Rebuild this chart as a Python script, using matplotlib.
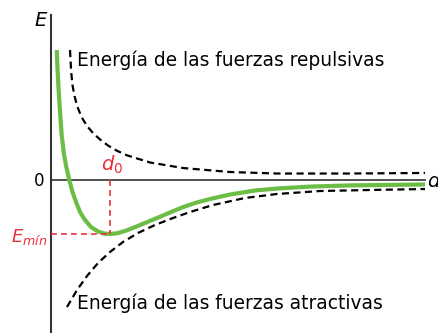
import matplotlib.pyplot as plt
import numpy as np

# energia total (curva verde); d en unidades de d0, E en unidades de |Emin|
d_total = [0.097, 0.110, 0.127, 0.153, 0.181, 0.217, 0.259, 0.310, 0.364, 0.424, 0.492,
           0.576, 0.678, 0.797, 0.898, 1.000, 1.119, 1.254, 1.407, 1.593, 1.797, 2.017,
           2.220, 2.441, 2.695, 3.034, 3.458, 3.881, 4.390, 5.068, 6.339]
E_total = [2.407, 2.074, 1.704, 1.259, 0.833, 0.500, 0.241, 0.000, -0.222, -0.407, -0.593,
           -0.741, -0.870, -0.954, -0.991, -1.000, -0.987, -0.944, -0.880, -0.796, -0.704,
           -0.602, -0.509, -0.426, -0.352, -0.269, -0.194, -0.154, -0.122, -0.100, -0.083]

# energia de las fuerzas repulsivas
d_rep = [0.322, 0.331, 0.342, 0.364, 0.398, 0.449, 0.517, 0.610, 0.712, 0.831, 0.966,
         1.119, 1.288, 1.678, 2.237, 3.034, 3.831, 5.068, 6.339]
E_rep = [2.407, 2.222, 2.000, 1.759, 1.556, 1.352, 1.167, 1.000, 0.870, 0.750, 0.639,
         0.541, 0.457, 0.324, 0.222, 0.148, 0.120, 0.120, 0.130]

# energia de las fuerzas atractivas
d_atr = [0.271, 0.441, 0.610, 0.797, 1.000, 1.220, 1.475, 1.763, 2.068, 2.356, 2.746,
         3.288, 3.831, 4.559, 5.407, 6.339]
E_atr = [-2.352, -2.037, -1.778, -1.537, -1.333, -1.148, -0.981, -0.833, -0.704, -0.593, -0.463,
         -0.333, -0.259, -0.204, -0.185, -0.167]

d0 = 1.0
E_min = -1.0

fig = plt.figure(figsize=(4.38, 3.33), dpi=100)
ax = fig.add_axes([0, 0, 1, 1])
ax.set_xlim(-51 / 59, 387 / 59)
ax.set_ylim(-153 / 54, 180 / 54)
ax.axis('off')

# ejes
ax.plot([0, 0], [-3, 3.056], color='#333333', lw=1.5)
ax.plot([0, 6.34], [0, 0], color='#333333', lw=1.2)

# curvas
ax.plot(d_rep, E_rep, color='black', lw=1.6, dashes=(3.2, 2.0))
ax.plot(d_atr, E_atr, color='black', lw=1.6, dashes=(3.2, 2.0))
ax.plot(d_total, E_total, color='#6cbd45', lw=3.0, solid_capstyle='butt',
        solid_joinstyle='round')

# d0 y Emin
red = '#e8303a'
ax.plot([d0, d0], [0, E_min], color=red, lw=1.2, dashes=(3.5, 2.5))
ax.plot([0, d0], [E_min, E_min], color=red, lw=1.2, dashes=(3.5, 2.5))

ax.text(-0.07, 2.96, 'E', fontsize=14, style='italic', ha='right', va='center')
ax.text(-0.12, -0.02, '0', fontsize=12, ha='right', va='center')
ax.text(6.37, -0.03, 'd', fontsize=14, style='italic', ha='left', va='center')
ax.text(d0 + 0.04, 0.07, r'$d_0$', fontsize=14, color=red, ha='center', va='bottom')
ax.text(-0.07, -1.05, r'$E_{\mathit{mín}}$', fontsize=13, color=red, ha='right', va='center')

ax.text(0.44, 2.22, 'Energía de las fuerzas repulsivas', fontsize=13.4, ha='left', va='center')
ax.text(0.44, -2.28, 'Energía de las fuerzas atractivas', fontsize=13.4, ha='left', va='center')

fig.savefig('out.png', dpi=100)
